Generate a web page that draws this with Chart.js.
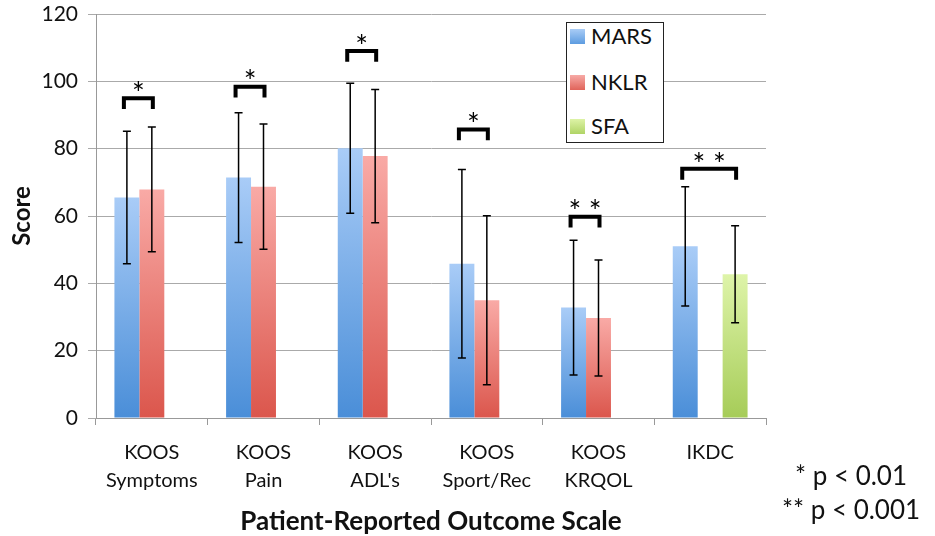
<!DOCTYPE html>
<html lang="en">
<head>
  <meta charset="utf-8">
  <title>Patient-Reported Outcome Scale</title>
  <style>
    body { margin: 0; background: #fff; font-family: Lato, sans-serif; color: #111; }
    .wrap { position: relative; width: 935px; height: 536px; }
    /* legend sits inside the plot like the Excel original */
    #legend { position: absolute; left: 566px; top: 22px; width: 96px; height: 119px;
              border: 1px solid #222; background: #fff; }
    .item { position: absolute; left: 3px; font-size: 22px; line-height: 26px; white-space: nowrap; }
    .sw { display: inline-block; width: 15px; height: 15px; margin-right: 6px; vertical-align: 0px; }
    .note { position: absolute; left: 751px; width: 200px; text-align: center; font-size: 26px; line-height: 30px; }
  </style>
</head>
<body>
<div class="wrap">
  <canvas id="chart" width="935" height="536"></canvas>

  <div id="legend">
    <div class="item" style="top:0px"><span class="sw" style="background:linear-gradient(#a9ccf6,#5d9ce0)"></span>MARS</div>
    <div class="item" style="top:46px"><span class="sw" style="background:linear-gradient(#f7aaa6,#e0645a)"></span>NKLR</div>
    <div class="item" style="top:90px"><span class="sw" style="background:linear-gradient(#ddf3a6,#b0d466)"></span>SFA</div>
  </div>

  <div class="note" style="top:460px">* p &lt; 0.01</div>
  <div class="note" style="top:494px">** p &lt; 0.001</div>
</div>

<script src="https://cdn.jsdelivr.net/npm/chart.js"></script>
<script>
  // values
  const categories = [["KOOS", "Symptoms"], ["KOOS", "Pain"], ["KOOS", "ADL's"],
                      ["KOOS", "Sport/Rec"], ["KOOS", "KRQOL"], ["IKDC"]];
  const marsMean = [65.5, 71.4, 80.1, 45.8, 32.8, 51.0];
  const marsSd   = [19.7, 19.3, 19.3, 28.0, 20.0, 17.7];
  const nklrMean = [67.9, 68.7, 77.8, 35.0, 29.7, null];
  const nklrSd   = [18.5, 18.6, 19.8, 25.1, 17.2, null];
  const sfaMean  = [null, null, null, null, null, 42.7];
  const sfaSd    = [null, null, null, null, null, 14.4];
  // significance brackets (top of bracket, in score units) and their marks
  const sigLevel = [95.0, 98.4, 109.0, 85.7, 59.8, 74.0];
  const sigMark  = ["*", "*", "*", "*", "* *", "* *"];
  const yTicks   = [0, 20, 40, 60, 80, 100, 120];

  Chart.defaults.font.family = "Lato, sans-serif";
  Chart.defaults.color = "#111";

  // vertical gradient per bar, light at the top, darker at the base
  function barGradient(top, bottom) {
    return function (ctx) {
      const chart = ctx.chart;
      const v = ctx.raw;
      const y = chart.scales.y;
      if (v == null || !y) return top;
      const y0 = y.getPixelForValue(v), y1 = y.getPixelForValue(0);
      if (!isFinite(y0) || !isFinite(y1) || y0 === y1) return top;
      const g = chart.ctx.createLinearGradient(0, y0, 0, y1);
      g.addColorStop(0, top);
      g.addColorStop(1, bottom);
      return g;
    };
  }

  const sds = [marsSd, nklrSd, sfaSd];

  // error bars + significance brackets
  const extras = {
    id: "extras",
    afterDatasetsDraw(chart) {
      const c = chart.ctx;
      const y = chart.scales.y;
      c.save();
      c.strokeStyle = "#000";
      c.lineWidth = 1.5;
      chart.data.datasets.forEach((ds, d) => {
        const meta = chart.getDatasetMeta(d);
        ds.data.forEach((v, i) => {
          if (v == null) return;
          const x = meta.data[i].x;
          const hi = y.getPixelForValue(v + sds[d][i]);
          const lo = y.getPixelForValue(v - sds[d][i]);
          c.beginPath();
          c.moveTo(x, hi); c.lineTo(x, lo);
          c.moveTo(x - 4, hi); c.lineTo(x + 4, hi);
          c.moveTo(x - 4, lo); c.lineTo(x + 4, lo);
          c.stroke();
        });
      });

      c.lineWidth = 4;
      c.lineJoin = "miter";
      c.font = "30px Lato, sans-serif";
      c.fillStyle = "#000";
      c.textAlign = "center";
      c.textBaseline = "middle";
      categories.forEach((cat, i) => {
        const xs = [];
        chart.data.datasets.forEach((ds, d) => {
          if (ds.data[i] != null) xs.push(chart.getDatasetMeta(d).data[i].x);
        });
        const x1 = xs[0] - 3, x2 = xs[xs.length - 1] + 1;
        const top = y.getPixelForValue(sigLevel[i]);
        const leg = y.getPixelForValue(sigLevel[i] - 3.2);
        c.beginPath();
        c.moveTo(x1, leg); c.lineTo(x1, top); c.lineTo(x2, top); c.lineTo(x2, leg);
        c.stroke();
        c.fillText(sigMark[i], (x1 + x2) / 2, top - 4);
      });
      c.restore();
    }
  };

  new Chart(document.getElementById("chart"), {
    type: "bar",
    data: {
      labels: categories,
      datasets: [
        { label: "MARS", data: marsMean, backgroundColor: barGradient("#a9ccf7", "#4a8ed8") },
        { label: "NKLR", data: nklrMean, backgroundColor: barGradient("#f9aaa6", "#db564c") },
        { label: "SFA",  data: sfaMean,  backgroundColor: barGradient("#def4a9", "#a6cc58") }
      ]
    },
    options: {
      responsive: false,
      animation: false,
      categoryPercentage: 0.67,
      barPercentage: 1.0,
      layout: { padding: { top: 14, right: 169, left: 8, bottom: 0 } },
      plugins: { legend: { display: false }, tooltip: { enabled: false } },
      scales: {
        x: {
          afterFit: (s) => { s.height = 118; },
          grid: { drawOnChartArea: false, color: "#999", tickLength: 7 },
          border: { color: "#999" },
          ticks: { font: { size: 20, lineHeight: 1.4 }, padding: 14, maxRotation: 0, color: "#111" },
          title: { display: true, text: "Patient-Reported Outcome Scale",
                   font: { size: 26, weight: "bold", lineHeight: 1.08 },
                   padding: { top: 0, bottom: 0 }, color: "#111" }
        },
        y: {
          min: 0, max: 120,
          afterFit: (s) => { s.width = 88; },
          afterBuildTicks: (s) => { s.ticks = yTicks.map(v => ({ value: v })); },
          grid: { color: "#aaa", tickLength: 8 },
          border: { color: "#999" },
          ticks: { font: { size: 21, lineHeight: 0.1 }, padding: 10, color: "#111" },
          title: { display: true, text: "Score", font: { size: 24, weight: "bold" },
                   padding: { top: 0, bottom: 6 }, color: "#111" }
        }
      }
    },
    plugins: [extras]
  });
</script>
</body>
</html>
